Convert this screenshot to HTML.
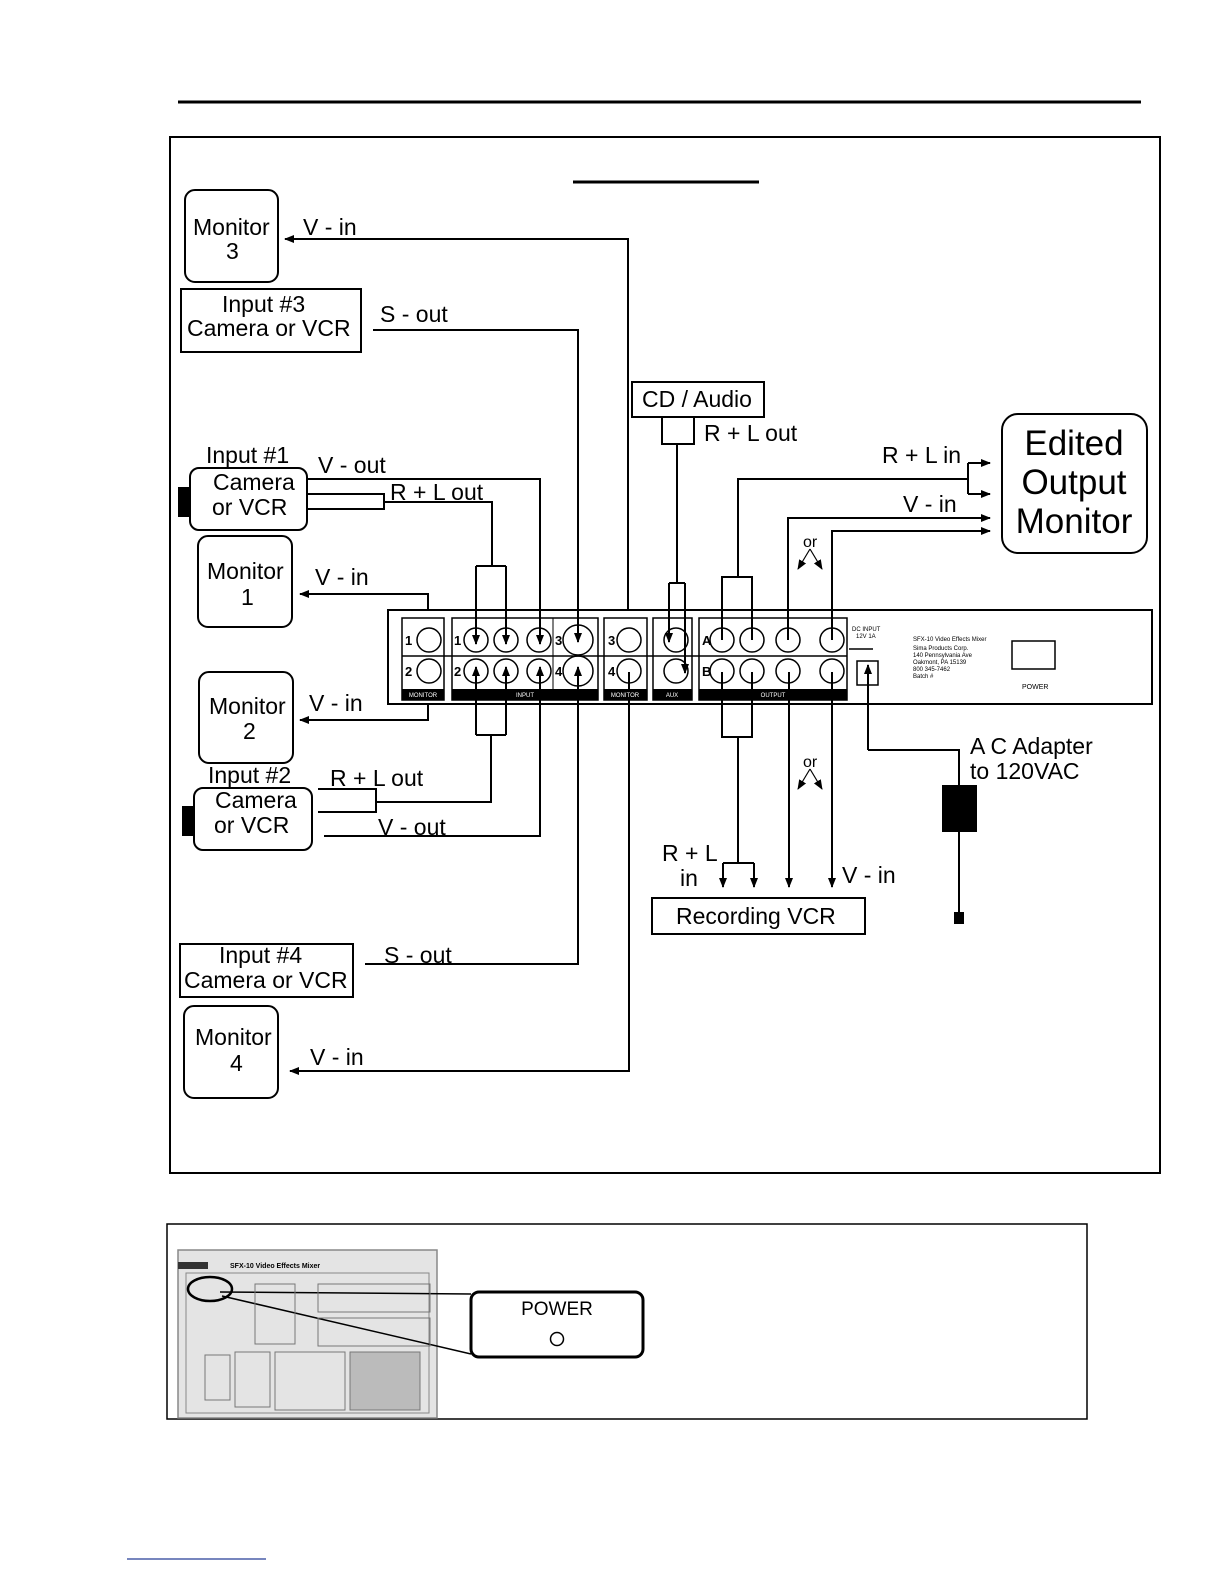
<!DOCTYPE html>
<html><head><meta charset="utf-8"><style>
html,body{margin:0;padding:0;background:#fff;}
svg{display:block;font-family:"Liberation Sans",Arial,sans-serif;}
</style></head><body>
<svg width="1224" height="1584" viewBox="0 0 1224 1584" xmlns="http://www.w3.org/2000/svg">
<defs>
<marker id="a" markerWidth="10" markerHeight="10" refX="9" refY="5" orient="auto" markerUnits="userSpaceOnUse"><path d="M0,1 L10,5 L0,9 Z" fill="#000"/></marker>
</defs>
<g fill="none" stroke="#000">
<line x1="178" y1="102" x2="1141" y2="102" stroke-width="3"/>
<rect x="170" y="137" width="990" height="1036" stroke-width="2"/>
<line x1="573" y1="182" x2="759" y2="182" stroke-width="3"/>

<rect x="185" y="190" width="93" height="92" rx="10" stroke-width="2"/>
<rect x="181" y="289" width="180" height="63" stroke-width="2"/>
<rect x="632" y="382" width="132" height="35" stroke-width="2"/>
<rect x="662" y="417" width="32" height="27" stroke-width="2"/>
<rect x="1002" y="414" width="145" height="139" rx="16" stroke-width="2"/>
<rect x="190" y="468" width="117" height="62" rx="9" stroke-width="2"/>
<rect x="198" y="536" width="94" height="91" rx="10" stroke-width="2"/>
<rect x="199" y="672" width="94" height="91" rx="10" stroke-width="2"/>
<rect x="194" y="788" width="118" height="62" rx="9" stroke-width="2"/>
<rect x="180" y="944" width="173" height="53" stroke-width="2"/>
<rect x="184" y="1006" width="94" height="92" rx="10" stroke-width="2"/>
<rect x="652" y="898" width="213" height="36" stroke-width="2"/>

<rect x="388" y="610" width="764" height="94" stroke-width="2"/>
<rect x="402" y="618" width="42" height="82" stroke-width="1.5"/>
<rect x="452" y="618" width="146" height="82" stroke-width="1.5"/>
<line x1="553" y1="618" x2="553" y2="700" stroke-width="1"/>
<rect x="604" y="618" width="43" height="82" stroke-width="1.5"/>
<rect x="653" y="618" width="39" height="82" stroke-width="1.5"/>
<rect x="699" y="618" width="148" height="82" stroke-width="1.5"/>
<line x1="402" y1="656" x2="847" y2="656" stroke-width="1.5"/>
<g stroke-width="1.5">
<circle cx="429" cy="640" r="12"/><circle cx="429" cy="671" r="12"/>
<circle cx="476" cy="640" r="12"/><circle cx="506" cy="640" r="12"/><circle cx="539" cy="640" r="12"/><circle cx="578" cy="640" r="15"/>
<circle cx="476" cy="671" r="12"/><circle cx="506" cy="671" r="12"/><circle cx="539" cy="671" r="12"/><circle cx="578" cy="671" r="15"/>
<circle cx="629" cy="640" r="12"/><circle cx="629" cy="671" r="12"/>
<circle cx="676" cy="640" r="12"/><circle cx="676" cy="671" r="12"/>
<circle cx="722" cy="640" r="12"/><circle cx="752" cy="640" r="12"/><circle cx="788" cy="640" r="12"/><circle cx="832" cy="640" r="12"/>
<circle cx="722" cy="671" r="12"/><circle cx="752" cy="671" r="12"/><circle cx="788" cy="671" r="12"/><circle cx="832" cy="671" r="12"/>
</g>
<rect x="857" y="661" width="21" height="24" stroke-width="1.5"/>
<rect x="1012" y="641" width="43" height="28" stroke-width="1.5"/>
<path d="M849,649 H873" stroke-width="1.5"/>

<g stroke-width="2">
<path d="M628,610 V239 H285" marker-end="url(#a)"/>
<path d="M373,330 H578 V642" marker-end="url(#a)"/>
<path d="M677,444 V583 M669,583 H685"/>
<path d="M669,583 V642" marker-end="url(#a)"/>
<path d="M685,583 V673" marker-end="url(#a)"/>
<path d="M307,479 H540 V644" marker-end="url(#a)"/>
<path d="M307,494 H384 V509 H307 M384,502 H492 V566 M476,566 H506"/>
<path d="M476,566 V644" marker-end="url(#a)"/>
<path d="M506,566 V644" marker-end="url(#a)"/>
<path d="M428,610 V594 H300" marker-end="url(#a)"/>
<path d="M428,704 V720 H300" marker-end="url(#a)"/>
<path d="M318,789 H376 V812 H318 M376,802 H491 V735 M476,735 H506"/>
<path d="M476,735 V667" marker-end="url(#a)"/>
<path d="M506,735 V667" marker-end="url(#a)"/>
<path d="M324,836 H540 V667" marker-end="url(#a)"/>
<path d="M365,964 H578 V667" marker-end="url(#a)"/>
<path d="M629,672 V1071 H290" marker-end="url(#a)"/>
<path d="M722,640 V577 H752 V640 M738,577 V479 H968 M968,463 V494"/>
<path d="M968,463 H990" marker-end="url(#a)"/>
<path d="M968,494 H990" marker-end="url(#a)"/>
<path d="M788,640 V518 H990" marker-end="url(#a)"/>
<path d="M832,640 V531 H990" marker-end="url(#a)"/>
<path d="M722,672 V737 H752 V672 M738,737 V863 M723,863 H754"/>
<path d="M723,863 V887" marker-end="url(#a)"/>
<path d="M754,863 V887" marker-end="url(#a)"/>
<path d="M789,672 V887" marker-end="url(#a)"/>
<path d="M832,672 V887" marker-end="url(#a)"/>
<path d="M868,750 V665" marker-end="url(#a)"/>
<path d="M868,750 H959 V785"/>
<path d="M959,832 V915"/>
</g>
<g stroke-width="1.2">
<path d="M810,549 L798,569" marker-end="url(#a)"/><path d="M810,549 L822,569" marker-end="url(#a)"/>
<path d="M810,769 L798,789" marker-end="url(#a)"/><path d="M810,769 L822,789" marker-end="url(#a)"/>
</g>
<rect x="167" y="1224" width="920" height="195" stroke-width="1.5"/>
<rect x="178" y="1250" width="259" height="168" fill="#e4e4e4" stroke="#888" stroke-width="1.5"/>
<rect x="186" y="1273" width="243" height="140" fill="none" stroke="#888" stroke-width="1"/>
<rect x="471" y="1292" width="172" height="65" rx="8" stroke-width="3"/>
<ellipse cx="210" cy="1289" rx="22" ry="12" stroke-width="2.5"/>
<path d="M220,1292 L471,1294 M222,1296 L471,1354" stroke-width="1.5"/>
<rect x="178" y="1262" width="30" height="7" fill="#333" stroke="none"/>
<rect x="255" y="1284" width="40" height="60" fill="none" stroke="#777"/>
<rect x="318" y="1284" width="112" height="28" fill="none" stroke="#777"/>
<rect x="318" y="1318" width="112" height="28" fill="none" stroke="#777"/>
<rect x="205" y="1355" width="25" height="45" fill="none" stroke="#777"/>
<rect x="235" y="1352" width="35" height="55" fill="none" stroke="#777"/>
<rect x="275" y="1352" width="70" height="58" fill="none" stroke="#777"/>
<rect x="350" y="1352" width="70" height="58" fill="#bbb" stroke="#777"/>
<line x1="127" y1="1559" x2="266" y2="1559" stroke="#4a5fa8" stroke-width="1.5"/>
</g>
<g fill="#000">
<rect x="178" y="487" width="12" height="30"/>
<rect x="182" y="806" width="12" height="30"/>
<rect x="942" y="785" width="35" height="47"/>
<rect x="954" y="912" width="10" height="12"/>
<rect x="402" y="689" width="42" height="11"/><rect x="452" y="689" width="146" height="11"/>
<rect x="604" y="689" width="43" height="11"/><rect x="653" y="689" width="39" height="11"/><rect x="699" y="689" width="148" height="11"/>
</g>
<g font-size="23" fill="#000">
<text x="193" y="235">Monitor</text><text x="226" y="259">3</text>
<text x="303" y="235">V - in</text>
<text x="222" y="312">Input  #3</text><text x="187" y="336">Camera or VCR</text>
<text x="380" y="322">S - out</text>
<text x="642" y="407">CD / Audio</text>
<text x="704" y="441">R + L out</text>
<text x="882" y="463">R + L in</text>
<text x="903" y="512">V - in</text>
<text x="206" y="463">Input  #1</text>
<text x="318" y="473">V - out</text>
<text x="213" y="490">Camera</text><text x="212" y="515">or VCR</text>
<text x="390" y="500">R + L out</text>
<text x="207" y="579">Monitor</text><text x="241" y="605">1</text>
<text x="315" y="585">V - in</text>
<text x="209" y="714">Monitor</text><text x="243" y="739">2</text>
<text x="309" y="711">V - in</text>
<text x="208" y="783">Input  #2</text>
<text x="330" y="786">R + L out</text>
<text x="215" y="808">Camera</text><text x="214" y="833">or VCR</text>
<text x="378" y="835">V - out</text>
<text x="970" y="754">A C  Adapter</text>
<text x="970" y="779">to 120VAC</text>
<text x="662" y="861">R + L</text><text x="680" y="886">in</text>
<text x="842" y="883">V - in</text>
<text x="676" y="924">Recording VCR</text>
<text x="219" y="963">Input  #4</text><text x="184" y="988">Camera or VCR</text>
<text x="384" y="963">S - out</text>
<text x="195" y="1045">Monitor</text><text x="230" y="1071">4</text>
<text x="310" y="1065">V - in</text>
</g>
<g font-size="16" fill="#000">
<text x="803" y="547">or</text>
<text x="803" y="767">or</text>
</g>
<g font-size="35" fill="#000" text-anchor="middle">
<text x="1074" y="455">Edited</text><text x="1074" y="494">Output</text><text x="1074" y="533">Monitor</text>
</g>
<g font-size="13" font-weight="bold" fill="#000">
<text x="405" y="645">1</text><text x="405" y="676">2</text>
<text x="454" y="645">1</text><text x="454" y="676">2</text>
<text x="555" y="645">3</text><text x="555" y="676">4</text>
<text x="608" y="645">3</text><text x="608" y="676">4</text>
<text x="702" y="645">A</text><text x="702" y="676">B</text>
</g>
<g font-size="6" fill="#fff" text-anchor="middle">
<text x="423" y="697">MONITOR</text><text x="525" y="697">INPUT</text><text x="625" y="697">MONITOR</text><text x="672" y="697">AUX</text><text x="773" y="697">OUTPUT</text>
</g>
<g font-size="6" fill="#000">
<text x="852" y="631">DC INPUT</text><text x="856" y="638">12V 1A</text>
<text x="913" y="641">SFX-10 Video Effects Mixer</text><text x="913" y="650">Sima Products Corp.</text><text x="913" y="657">140 Pennsylvania Ave</text><text x="913" y="664">Oakmont, PA 15139</text><text x="913" y="671">800 345-7462</text><text x="913" y="678">Batch #</text>
<text x="1022" y="689" font-size="7">POWER</text>
<text x="230" y="1268" font-size="7" font-weight="bold">SFX-10 Video Effects Mixer</text>
</g>
<text x="557" y="1315" font-size="19" text-anchor="middle">POWER</text>
<circle cx="557" cy="1339" r="6.5" fill="none" stroke="#000" stroke-width="1.5"/>
</svg>
</body></html>
